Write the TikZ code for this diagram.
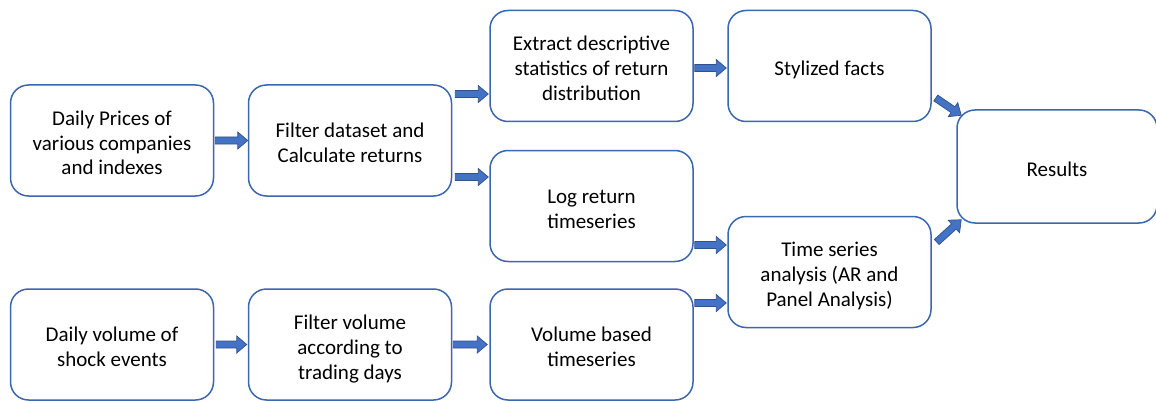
\documentclass[tikz,border=0pt]{standalone}
\usepackage{fontspec}
\setmainfont{Carlito}
\usetikzlibrary{calc}
\definecolor{boxblue}{HTML}{3B66B0}
\definecolor{arrfill}{HTML}{4472C4}
\definecolor{arrline}{HTML}{2F528F}
\newcommand{\btext}[1]{\raisebox{-4.5pt}[\height][\depth]{\begin{tabular}{@{}c@{}}#1\end{tabular}}}
\tikzset{
  procbox/.style={draw=boxblue, line width=1.5pt, fill=white, rounded corners=18pt,
    minimum width=203pt, minimum height=111pt,
    font=\fontsize{21}{25}\selectfont, inner sep=0pt},
  blockarrow/.style={fill=arrfill, draw=arrline, line width=0.7pt, line join=miter}
}
\newcommand{\blockarr}[2]{%
  \path (#1) coordinate (ba-s) (#2) coordinate (ba-t);
  \path ($(ba-t)!10pt!(ba-s)$) coordinate (ba-b);
  \draw[blockarrow] ($(ba-s)!3.5pt!90:(ba-t)$) -- ($(ba-b)!3.5pt!90:(ba-t)$)
    -- ($(ba-b)!8.5pt!90:(ba-t)$) -- (ba-t) -- ($(ba-b)!8.5pt!-90:(ba-t)$)
    -- ($(ba-b)!3.5pt!-90:(ba-t)$) -- ($(ba-s)!3.5pt!-90:(ba-t)$) -- cycle;
}
\begin{document}
\begin{tikzpicture}[x=1pt,y=-1pt]
\useasboundingbox (0,0) rectangle (1156,401);
\node[procbox] (A) at (112,140.5) {\btext{Daily Prices of\\various companies\\and indexes}};
\node[procbox] (B) at (350,140.5) {\btext{Filter dataset and\\Calculate returns}};
\node[procbox] (C) at (591.5,66) {\btext{Extract descriptive\\statistics of return\\distribution}};
\node[procbox] (D) at (829.5,66) {\btext{Stylized facts}};
\node[procbox, minimum width=200pt, minimum height=113pt] (E) at (1057,166.5) {\btext{Results}};
\node[procbox] (F) at (591.5,206) {\btext{Log return\\timeseries}};
\node[procbox] (G) at (829.5,272) {\btext{Time series\\analysis (AR and\\Panel Analysis)}};
\node[procbox] (H) at (112,344.5) {\btext{Daily volume of\\shock events}};
\node[procbox] (I) at (350,344.5) {\btext{Filter volume\\according to\\trading days}};
\node[procbox] (J) at (591.5,344.5) {\btext{Volume based\\timeseries}};

\blockarr{[xshift=1pt]A.east}{B.west}
\blockarr{[xshift=3pt,yshift=46.5pt]B.east}{[xshift=-1pt,yshift=-28pt]C.west}
\blockarr{[xshift=3pt,yshift=-36.5pt]B.east}{[xshift=-1pt,yshift=29pt]F.west}
\blockarr{[xshift=1pt,yshift=-2pt]C.east}{[xshift=-1pt,yshift=-2pt]D.west}
\blockarr{[xshift=1pt,yshift=-39pt]F.east}{[xshift=-1pt,yshift=27pt]G.west}
\blockarr{[xshift=1pt,yshift=41.5pt]J.east}{[xshift=-1pt,yshift=-31pt]G.west}
\blockarr{[xshift=2pt]H.east}{[xshift=-1pt]I.west}
\blockarr{[xshift=1pt]I.east}{[xshift=-2pt]J.west}
\blockarr{[xshift=4pt,yshift=-32pt]D.east}{[xshift=5pt,yshift=-6pt]E.north west}
\blockarr{[xshift=5pt,yshift=30pt]G.east}{[xshift=5pt,yshift=4pt]E.south west}
\end{tikzpicture}
\end{document}
